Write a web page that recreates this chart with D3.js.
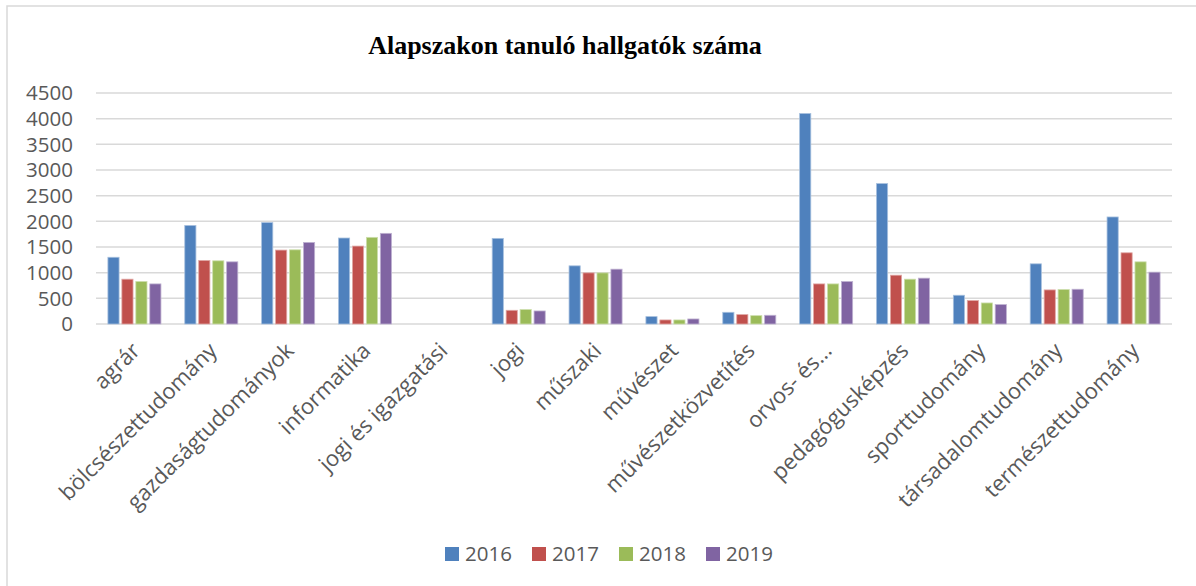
<!DOCTYPE html>
<html>
<head>
<meta charset="utf-8">
<script src="https://cdn.jsdelivr.net/npm/d3@7"></script>
<style>
  body { margin: 0; background: #fff; }
  svg text { font-family: "Open Sans", Lato, sans-serif; }
</style>
</head>
<body>
<div class="chart"></div>
<script>
const categories = ["agrár", "bölcsészettudomány", "gazdaságtudományok", "informatika",
  "jogi és igazgatási", "jogi", "műszaki", "művészet", "művészetközvetítés",
  "orvos- és...", "pedagógusképzés", "sporttudomány", "társadalomtudomány", "természettudomány"];
const years = ["2016", "2017", "2018", "2019"];
const v2016 = [1300, 1920, 1975, 1675, 0, 1668, 1133, 144, 228, 4100, 2735, 560, 1172, 2085];
const v2017 = [873, 1238, 1440, 1518, 0, 267, 996, 79, 183, 781, 951, 456, 664, 1387];
const v2018 = [828, 1231, 1445, 1688, 0, 281, 996, 79, 163, 781, 873, 410, 671, 1211];
const v2019 = [781, 1211, 1589, 1766, 0, 254, 1068, 98, 170, 828, 893, 378, 677, 1010];
const yTicks = [0, 500, 1000, 1500, 2000, 2500, 3000, 3500, 4000, 4500];
const colors = ["#4F81BD", "#C0504D", "#9BBB59", "#8064A2"];
const edges = ["#a7c0de", "#e0a8a6", "#cddeac", "#bfb2d1"];

const series = [v2016, v2017, v2018, v2019];

const width = 1196, height = 586;
const margin = { top: 93, right: 24, bottom: 262, left: 96 };
const innerW = width - margin.left - margin.right,
      innerH = height - margin.top - margin.bottom;

let svg = d3.select(".chart").append("svg")
  .attr("width", width)
  .attr("height", height);

// chart area border (only top & left visible in the crop)
svg.append("rect")
  .attr("x", 7).attr("y", 6)
  .attr("width", 1300).attr("height", 700)
  .attr("fill", "none")
  .attr("stroke", "#d9d9d9")
  .attr("stroke-width", 1.5);

svg.append("text")
  .attr("x", 565).attr("y", 54)
  .attr("text-anchor", "middle")
  .style("font-family", "'Liberation Serif', 'Times New Roman', serif")
  .style("font-weight", "bold")
  .style("font-size", "26px")
  .text("Alapszakon tanuló hallgatók száma");

let g = svg.append("g")
  .attr("transform", "translate(" + margin.left + "," + margin.top + ")");

let x0 = d3.scaleBand().domain(categories).range([0, innerW]).paddingInner(0.31).paddingOuter(0.155);
let x1 = d3.scaleBand().domain(years).range([0, x0.bandwidth()]).paddingInner(0.2);
let y = d3.scaleLinear().domain([0, 4500]).range([innerH, 0]);

// gridlines
g.append("g")
  .selectAll("line")
  .data(yTicks)
  .join("line")
  .attr("x1", 0).attr("x2", innerW)
  .attr("y1", d => y(d)).attr("y2", d => y(d))
  .attr("stroke", "#d9d9d9")
  .attr("stroke-width", 1.5);

// y axis labels
g.append("g")
  .selectAll("text")
  .data(yTicks)
  .join("text")
  .attr("x", -23)
  .attr("y", d => y(d))
  .attr("dy", "0.36em")
  .attr("text-anchor", "end")
  .attr("fill", "#595959")
  .style("font-size", "20.5px")
  .text(d => d);

// bars
series.forEach((vals, si) => {
  g.append("g")
    .selectAll("rect")
    .data(vals.map((v, i) => ({ cat: categories[i], v: v })).filter(d => d.v > 0))
    .join("rect")
    .attr("x", d => x0(d.cat) + x1(years[si]))
    .attr("y", d => y(d.v))
    .attr("width", x1.bandwidth())
    .attr("height", d => innerH - y(d.v))
    .attr("fill", colors[si])
    .attr("stroke", edges[si])
    .attr("stroke-width", 0.8);
});

// x labels
let step = innerW / categories.length;
g.append("g")
  .selectAll("text")
  .data(categories)
  .join("text")
  .attr("transform", (d, i) => "translate(" + (step * i + step / 2 + 7) + "," + (innerH + 28) + ") rotate(-45)")
  .attr("text-anchor", "end")
  .attr("fill", "#595959")
  .style("font-size", "22px")
  .text(d => d);

// legend
let legend = svg.append("g").selectAll("g")
  .data(years)
  .join("g")
  .attr("transform", (d, i) => "translate(" + (445 + i * 87) + ",547)");
legend.append("rect")
  .attr("width", 14).attr("height", 14)
  .attr("fill", (d, i) => colors[i]);
legend.append("text")
  .attr("x", 20).attr("y", 7)
  .attr("dy", "0.36em")
  .attr("fill", "#595959")
  .style("font-size", "20.5px")
  .text(d => d);
</script>
</body>
</html>
